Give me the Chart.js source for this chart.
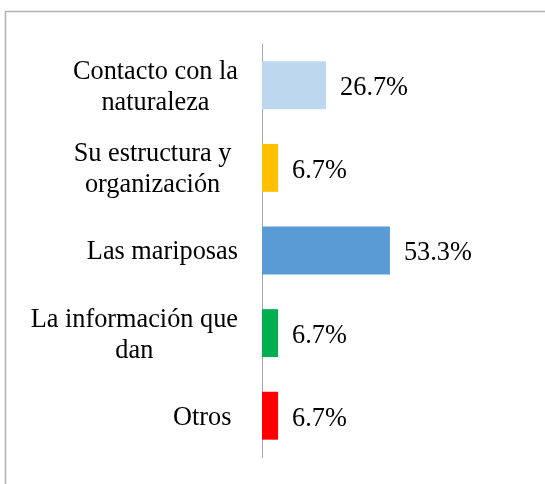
<!DOCTYPE html>
<html>
<head>
<meta charset="utf-8">
<script src="https://cdn.jsdelivr.net/npm/chart.js@4/dist/chart.umd.min.js"></script>
<style>
  html, body { margin: 0; padding: 0; background: #fff; }
  canvas { display: block; }
</style>
</head>
<body>
<canvas id="chart" width="545" height="484"></canvas>
<script>
// categories (one array of lines per label) and their shares in percent
var categories = [
    ["Contacto con la", "naturaleza"],
    ["Su estructura y ", "organización"],
    ["Las mariposas"],
    ["La información que", "dan"],
    ["Otros "]
];
var shares = [26.7, 6.7, 53.3, 6.7, 6.7];
var barColors = ["#BDD7EE", "#FFC000", "#5B9BD5", "#00B050", "#FF0000"];

var FONT = '26.3px "Liberation Serif", "Times New Roman", serif';
var LINE_H = 31;

// white background and the thin grey frame round the chart
const framePlugin = {
    id: 'frame',
    beforeDraw(chart) {
        const ctx = chart.ctx;
        ctx.save();
        ctx.fillStyle = '#fff';
        ctx.fillRect(0, 0, chart.width, chart.height);
        ctx.strokeStyle = '#B0B0B0';
        ctx.lineWidth = 1.5;
        ctx.strokeRect(5.5, 11.5, 700, 700);
        ctx.restore();
    }
};

// category labels: lines centred on each other, block right-aligned to the axis
// (a trailing space still counts towards the block width)
const categoryLabels = {
    id: 'categoryLabels',
    afterDraw(chart) {
        const ctx = chart.ctx;
        const yScale = chart.scales.y;
        const right = chart.chartArea.left - 24;
        ctx.save();
        ctx.font = FONT;
        ctx.fillStyle = '#000';
        ctx.textAlign = 'center';
        ctx.textBaseline = 'middle';
        const widest = function (lines) {
            return Math.max.apply(null, lines.map(function (l) { return ctx.measureText(l).width; }));
        };
        categories.forEach(function (lines, i) {
            const trimmed = lines.map(function (l) { return l.trim(); });
            const w = widest(lines);
            const wt = widest(trimmed);
            const cx = right - w + wt / 2;
            const cy = yScale.getPixelForValue(i);
            const top = cy - (lines.length - 1) * LINE_H / 2;
            trimmed.forEach(function (l, j) {
                ctx.fillText(l, cx, top + j * LINE_H + 2);
            });
        });
        ctx.restore();
    }
};

// percentage labels just past the end of each bar
const valueLabels = {
    id: 'valueLabels',
    afterDatasetsDraw(chart) {
        const ctx = chart.ctx;
        const meta = chart.getDatasetMeta(0);
        ctx.save();
        ctx.font = FONT;
        ctx.fillStyle = '#000';
        ctx.textAlign = 'left';
        ctx.textBaseline = 'middle';
        meta.data.forEach(function (bar, i) {
            ctx.fillText(shares[i].toFixed(1) + '%', bar.x + 14, bar.y + 3);
        });
        ctx.restore();
    }
};

const ctx = document.getElementById("chart");
const myChart = new Chart(ctx, {
    type: 'bar',
    data: {
        labels: categories,
        datasets: [{
            data: shares,
            backgroundColor: barColors,
            borderWidth: 0,
            categoryPercentage: 0.58,
            barPercentage: 1
        }]
    },
    options: {
        indexAxis: 'y',
        responsive: false,
        animation: false,
        layout: {
            padding: { left: 254, right: 139, top: 44, bottom: 27 }
        },
        plugins: {
            legend: { display: false },
            tooltip: { enabled: false }
        },
        scales: {
            x: {
                display: false,
                min: 0,
                max: 60
            },
            y: {
                grid: { display: false },
                ticks: { display: false },
                border: { display: true, color: '#A6A6A6', width: 1 }
            }
        }
    },
    plugins: [framePlugin, categoryLabels, valueLabels]
});
</script>
</body>
</html>
